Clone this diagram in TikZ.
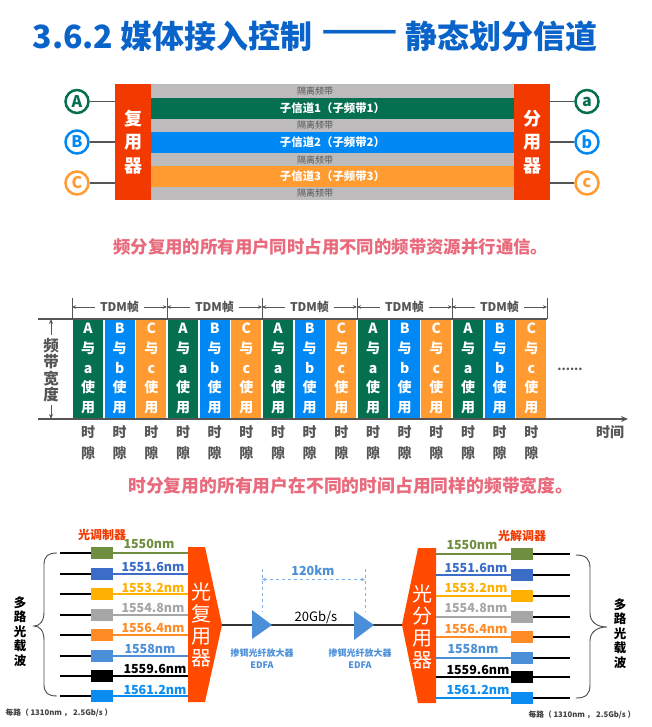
\documentclass[tikz,border=0pt]{standalone}
\usepackage{graphicx}
\usepackage{fontspec}
\setmainfont{Noto Sans CJK SC}
\usetikzlibrary{arrows.meta}
\definecolor{tgreen}{HTML}{05704F}
\definecolor{tblue}{HTML}{0088F5}
\definecolor{torange}{HTML}{FF9B30}
\definecolor{tgray}{HTML}{BDBBBB}
\definecolor{tred}{HTML}{F23A00}
\definecolor{pred}{HTML}{FF4A00}
\definecolor{ttitle}{HTML}{0A63C9}
\definecolor{tpink}{HTML}{E96A7C}
\definecolor{tdark}{HTML}{555555}
\definecolor{colA}{HTML}{6F8E3F}
\definecolor{colB}{HTML}{3A6CC8}
\definecolor{colC}{HTML}{FFB000}
\definecolor{colD}{HTML}{A6A6A6}
\definecolor{colE}{HTML}{FF8C26}
\definecolor{colF}{HTML}{4A8FD8}
\definecolor{colG}{HTML}{000000}
\definecolor{colH}{HTML}{0A8CF0}
\newcommand{\fs}[2]{\fontsize{#1}{#2}\selectfont}
\tikzset{
  bx/.style={inner sep=0pt,outer sep=0pt,draw=none},
  band/.style={bx,minimum width=363pt,minimum height=21pt,text=white,font=\fs{11.4}{13}\bfseries},
  gaplabel/.style={inner sep=0pt,text=tdark,font=\fs{9}{11}},
  muxbox/.style={bx,fill=tred,minimum width=36pt,minimum height=116pt,text=white,align=center,font=\fs{18}{23.5}\bfseries},
  chan/.style={circle,draw=#1,line width=2.5pt,fill=white,text=#1,inner sep=0pt,minimum size=23pt,font=\fs{16}{18}\bfseries},
  link/.style={draw=tdark,line width=1.5pt},
  slot/.style={bx,minimum width=30pt,minimum height=99pt,text=white,align=center,font=\fs{14}{19.6}\bfseries},
  slotlabel/.style={inner sep=0pt,text=tdark,align=center,font=\fs{14}{20.5}\bfseries},
  axisline/.style={draw=tdark,line width=1.2pt},
  frameline/.style={draw=tdark,line width=.9pt,-{Stealth[length=4pt,width=3.5pt]}},
  modbox/.style={bx,minimum width=22pt,minimum height=12pt},
  wave/.style={inner sep=0pt,font=\fs{12.5}{15}\bfseries},
  fibre/.style={line width=1.1pt},
  mainline/.style={draw=black!80,line width=1.4pt},
  polytext/.style={inner sep=0pt,text=white,align=center,font=\fs{20}{22}},
  sidetext/.style={inner sep=0pt,text=black,align=center,font=\fs{12.5}{14.6}\bfseries},
  bracel/.style={draw=black!70,line width=.9pt},
  edfa/.style={inner sep=0pt,align=center,text=colF,font=\fs{9}{11.5}\bfseries},
  note/.style={inner sep=0pt,text=black!75,font=\fs{7.7}{10}\bfseries},
  caption/.style={inner sep=0pt,text=tpink,anchor=west},
  dim/.style={draw=colF!70,line width=.6pt,dashed},
  titletext/.style={inner sep=0pt,text=ttitle,font=\fs{32}{36}\bfseries},
}
\begin{document}
\begin{tikzpicture}[x=1pt,y=-1pt]
\useasboundingbox (0,0) rectangle (652,727);
\fill[white] (0,0) rectangle (652,727);
% Title
\node[titletext,anchor=east] (title1) at (313,36) {3.6.2 媒体接入控制};
\node[titletext] (title2) at (360,36) {\scalebox{1.4}[1]{——}};
\node[titletext,anchor=west] (title3) at (405,36) {静态划分信道};
% FDM
\node[bx,fill=tgray,minimum width=363pt,minimum height=116pt] (gap) at (332.5,142) {};
\node[band,fill=tgreen] (ch1) at (332.5,108.5) {子信道1（子频带1）};
\node[band,fill=tblue] (ch2) at (332.5,142.5) {子信道2（子频带2）};
\node[band,fill=torange] (ch3) at (332.5,176.5) {子信道3（子频带3）};
\node[gaplabel] (g1) at (315,91) {隔离频带};
\node[gaplabel] (g2) at (315,125.5) {隔离频带};
\node[gaplabel] (g3) at (315,160) {隔离频带};
\node[gaplabel] (g4) at (315,193) {隔离频带};
\node[muxbox] (mux) at (133,142) {复\\用\\器};
\node[muxbox] (dmx) at (532,142) {分\\用\\器};
\foreach \n/\L/\r/\c/\y in {1/A/a/tgreen/101.5,2/B/b/tblue/142,3/C/c/torange/183}{
  \node[chan=\c] (cl\n) at (77,\y) {\L};
  \node[chan=\c] (cr\n) at (587,\y) {\r};
  \draw[link] (cl\n) -- (cl\n -| mux.west);
  \draw[link] (cr\n) -- (cr\n -| dmx.east);
}
\node[caption,font=\fs{17.4}{20}\bfseries] (cap1) at (113,247) {频分复用的所有用户同时占用不同的频带资源并行通信。};
% TDM
\coordinate (hl1) at (38,319);
\coordinate (hr1) at (547,319);
\coordinate (hl2) at (38,419);
\coordinate (axisend) at (628,419);
\foreach \f in {0,...,4}{
  \foreach \k/\U/\l/\c in {0/A/a/tgreen,1/B/b/tblue,2/C/c/torange}{
    \node[slot,fill=\c] (s\f\k) at (88+95*\f+31.67*\k,368.5) {\U\\与\\\l\\使\\用};
    \node[slotlabel] (sl\f\k) at (88+95*\f+31.67*\k,442.5) {时\\隙};
  }
}
\foreach \i in {0,...,5}{
  \coordinate (ft\i) at (72+95*\i,298);
  \coordinate (fb\i) at (72+95*\i,319);
  \draw[axisline,line width=.9pt] (ft\i) -- (fb\i);
}
\draw[axisline] (hl1) -- (hr1);
\draw[axisline,-{Stealth[length=7pt,width=6pt]}] (hl2) -- (axisend);
\foreach \i/\j in {0/1,1/2,2/3,3/4,4/5}{
  \node[inner sep=0pt,text=tdark,font=\fs{12}{14}\bfseries] (tdm\i) at (119.5+95*\i,307) {TDM帧};
  \draw[frameline] ([xshift=-5pt]tdm\i.west) -- (tdm\i.west -| ft\i);
  \draw[frameline] ([xshift=5pt]tdm\i.east) -- (tdm\i.east -| ft\j);
}
\node[inner sep=0pt,text=tdark,font=\fs{14}{16}\bfseries] (timelbl) at (610,432) {时间};
\node[inner sep=0pt,text=tdark,font=\fs{12}{14}\bfseries] (dots) at (570,369) {......};
\node[inner sep=0pt,text=tdark,align=center,font=\fs{15.5}{16.6}\bfseries] (bw) at (51,370) {频\\带\\宽\\度};
\draw[axisline,line width=.9pt,-{Stealth[length=5pt,width=4pt]}] (bw.north) ++(0,-3) coordinate (bwt) -- (bwt |- hl1);
\draw[axisline,line width=.9pt,-{Stealth[length=5pt,width=4pt]}] (bw.south) ++(0,3) coordinate (bwb) -- (bwb |- hl2);
\node[caption,font=\fs{17.8}{20}\bfseries] (cap2) at (128,486) {时分复用的所有用户在不同的时间占用同样的频带宽度。};
% WDM
\fill[pred] (188,547) coordinate (mt) -- (205,547) -- (222,625) coordinate (muxtip) -- (205,702) -- (188,702) -- cycle;
\fill[pred] (436,548) -- (418,548) -- (402,625) coordinate (dmxtip) -- (418,703) -- (436,703) -- cycle;
\coordinate (muxE) at (188,625);
\coordinate (dmxW) at (436,625);
\node[polytext] (mtext) at (201,625) {光\\复\\用\\器};
\node[polytext] (dtext) at (422,626.5) {光\\分\\用\\器};
\foreach \i/\yl/\yr/\c/\t/\xa/\ya/\xb/\yb in {
 1/553/554/colA/1550nm/149/544/472/545,
 2/574/575/colB/1551.6nm/153/567/476/568,
 3/594/596/colC/1553.2nm/153/587.5/476/588,
 4/615/617/colD/1554.8nm/153/608/476/608,
 5/635/637/colE/1556.4nm/153/628/476/629,
 6/656/658/colF/1558nm/150/648.5/473/649,
 7/676/677/colG/1559.6nm/155/669/478/670,
 8/696/698/colH/1561.2nm/155/690/478/690}{
  \coordinate (ls\i) at (60,\yl);
  \node[modbox,fill=\c] (lm\i) at (102,\yl) {};
  \draw[fibre,black] (ls\i) -- (lm\i.west);
  \draw[fibre,draw=\c] (lm\i.east) -- (lm\i.east -| muxE);
  \node[wave,text=\c] (wl\i) at (\xa,\ya) {\t};
  \coordinate (rs\i) at (570,\yr);
  \node[modbox,fill=\c] (rm\i) at (522,\yr) {};
  \draw[fibre,black] (rm\i.east) -- (rs\i);
  \draw[fibre,draw=\c] (rm\i.west) -- (rm\i.west -| dmxW);
  \node[wave,text=\c] (wr\i) at (\xb,\yb) {\t};
}
\node[inner sep=0pt,text=tred,font=\fs{12}{14}\bfseries] (modl) at (102,535) {光调制器};
\node[inner sep=0pt,text=tred,font=\fs{12}{14}\bfseries] (demo) at (522,536) {光解调器};
% main line and amplifiers
\draw[mainline] (muxtip) -- (dmxtip);
\fill[colF] (252,610) coordinate (t1a) -- (272,625) coordinate (t1e) -- (252,639) -- cycle;
\fill[colF] (354,611) coordinate (t2a) -- (374,625) coordinate (t2e) -- (354,640) -- cycle;
\node[inner sep=0pt,font=\fs{13}{15}] (rate) at (316,617) {20Gb/s};
\node[edfa] (ed1) at (262,658.5) {掺铒光纤放大器\\EDFA};
\node[edfa] (ed2) at (360,658.5) {掺铒光纤放大器\\EDFA};
% 120 km
\coordinate (d1t) at (262,569);
\coordinate (d2t) at (365,569);
\coordinate (d1b) at (262,612);
\coordinate (d2b) at (365,612);
\coordinate (d1m) at (262,579.5);
\coordinate (d2m) at (365,579.5);
\draw[dim] (d1t) -- (d1b);
\draw[dim] (d2t) -- (d2b);
\draw[dim,{Stealth[length=4pt,width=3.5pt]}-{Stealth[length=4pt,width=3.5pt]}] (d1m) -- (d2m);
\node[inner sep=0pt,text=colF,font=\fs{12.5}{15}\bfseries] (km) at (313,571) {120km};
% braces
\coordinate (bl1) at (57,553);
\coordinate (bl2) at (57,696);
\coordinate (blt) at (34,626);
\draw[bracel] (bl1) .. controls (48,553) and (44,556) .. (44,565) -- (44,612) .. controls (44,621) and (40,626) .. (blt) .. controls (40,626) and (44,631) .. (44,640) -- (44,684) .. controls (44,693) and (48,696) .. (bl2);
\coordinate (br1) at (576,555);
\coordinate (br2) at (576,698);
\coordinate (brt) at (607,627);
\draw[bracel] (br1) .. controls (586,555) and (590,559) .. (590,568) -- (590,613) .. controls (590,622) and (597,627) .. (brt) .. controls (597,627) and (590,632) .. (590,641) -- (590,685) .. controls (590,694) and (586,698) .. (br2);
\node[sidetext] (sl) at (20,631.5) {多\\路\\光\\载\\波};
\node[sidetext] (sr) at (620,633.5) {多\\路\\光\\载\\波};
\node[note] (nl) at (59,713) {每路（ 1310nm ， 2.5Gb/s ）};
\node[note] (nr) at (582,715) {每路（ 1310nm ， 2.5Gb/s ）};
\end{tikzpicture}
\end{document}
